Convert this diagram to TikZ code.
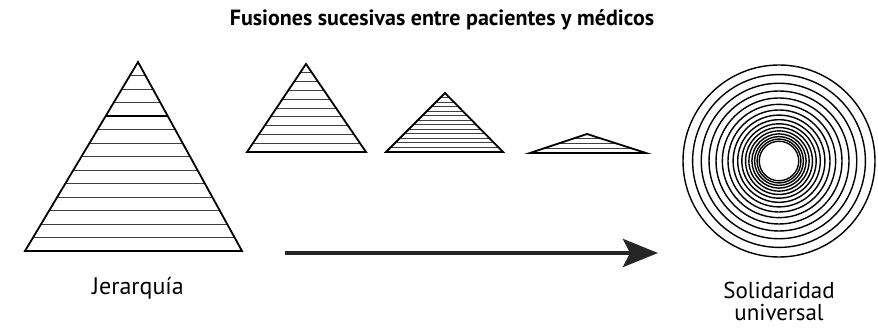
\documentclass[tikz,border=0pt]{standalone}
\usepackage{fontspec}
\setmainfont{PT Sans}
\usetikzlibrary{arrows.meta}
\tikzset{
  pyr/.style={draw=black, line width=1.8pt, line join=miter},
  hatch/.style={draw=black!75, line width=0.9pt},
  ring/.style={draw=black, line width=1.4pt},
  lbl/.style={font=\fontsize{24}{22}\selectfont, align=center, inner sep=0pt},
  lblsmall/.style={font=\fontsize{23}{22}\selectfont, align=center, inner sep=0pt},
  titlestyle/.style={font=\bfseries\fontsize{22}{24}\selectfont, inner sep=0pt},
  flow/.style={draw=black!85, line width=4pt, -{Stealth[length=35pt,width=28pt,inset=7pt]}}
}
\newcommand\mypyramid[7]{%
  \coordinate (#1-top) at (#2,#3);
  \coordinate (#1-l) at (#4,#6);
  \coordinate (#1-r) at (#5,#6);
  \begin{scope}
    \clip (#1-top) -- (#1-l) -- (#1-r) -- cycle;
    \pgfmathtruncatemacro\nn{#7-1}
    \foreach \k in {1,...,\nn}{
      \draw[hatch] (#4-5,{#3+\k*(#6-#3)/#7}) -- (#5+5,{#3+\k*(#6-#3)/#7});
    }
  \end{scope}
  \draw[pyr] (#1-top) -- (#1-l) -- (#1-r) -- cycle;
}
\begin{document}
\begin{tikzpicture}[x=1pt,y=-1pt]
  \useasboundingbox (0,0) rectangle (878,328);
  \node[titlestyle] (title) at (442,20) {Fusiones sucesivas entre pacientes y médicos};
  % big pyramid
  \mypyramid{big}{138}{62}{25}{242}{251}{14}
  \begin{scope}
    \clip (big-top) -- (big-l) -- (big-r) -- cycle;
    \draw[line width=1.3pt] (20,116) -- (250,116);
  \end{scope}
  \mypyramid{p2}{306}{64}{247}{366}{152}{10}
  \mypyramid{p3}{445}{93}{386}{503}{152}{13}
  \mypyramid{p4}{587}{134}{530}{646}{153}{4}
  % concentric circles
  \coordinate (ctr) at (779,161);
  \foreach \i in {0,...,15}{
    \draw[ring] (ctr) circle[radius={96*0.9^\i}];
  }
  % arrow
  \coordinate (astart) at (285,253);
  \coordinate (aend) at (658,253);
  \draw[flow] (astart) -- (aend);
  % labels
  \node[lbl] (jer) at (138,288) {Jerarquía};
  \node[lblsmall] (sol) at (779,301) {Solidaridad\\universal};
\end{tikzpicture}
\end{document}
